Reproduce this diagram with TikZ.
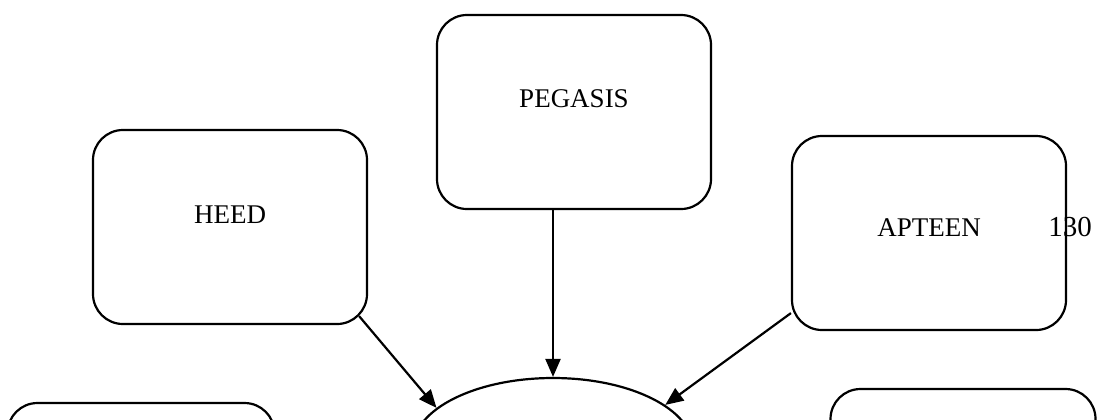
\documentclass[tikz,border=0pt]{standalone}
\usepackage{fontspec}
\setmainfont{Liberation Serif}
\usetikzlibrary{arrows.meta,shapes.geometric}

\begin{document}
\begin{tikzpicture}[
  x=0.5pt, y=-0.5pt,
  proto/.style={draw, line width=1.1pt, rounded corners=15pt, minimum width=137pt, minimum height=97pt, inner sep=2pt, font=\fontsize{13.5}{16}\selectfont},
  hub/.style={draw, ellipse, line width=1.1pt, minimum width=140pt, minimum height=70pt},
  arrow/.style={-{Triangle[length=9pt,width=7.5pt]}, line width=1.1pt}
]
\useasboundingbox (0,0) rectangle (1101,419);
% upper row: three protocol boxes
\node[proto, text depth=13.5pt] (peg) at (574,112) {PEGASIS};
\node[proto, text depth=12pt] (heed) at (230,227) {HEED};
\node[proto, text depth=5pt] (aptn) at (929,233) {APTEEN};
\node[font=\fontsize{14.5}{17}\selectfont] (pnum) at (1070,227) {130};
% lower row: hub ellipse with two side boxes, cut off by the page edge
\node[hub] (cen) at (553,448) {};
\node[proto, minimum width=133.5pt] (lbox) at (141,500) {};
\node[proto, minimum width=132.5pt] (rbox) at (963,486) {};
% arrows into the ellipse
\draw[arrow] (cen.north |- peg.south) -- (cen.north);
\draw[arrow] ([xshift=-4.5pt,yshift=4.5pt]heed.south east) -- (cen.161);
\draw[arrow] ([yshift=9pt]aptn.south west) -- (cen.21);
\end{tikzpicture}
\end{document}
